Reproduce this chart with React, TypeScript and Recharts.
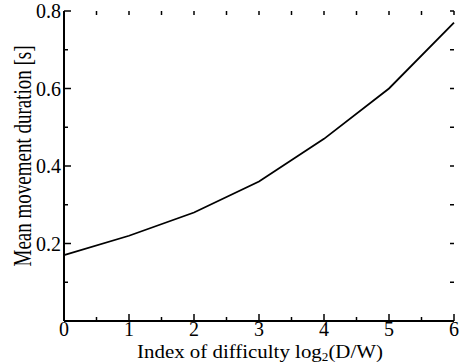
import { LineChart, Line, XAxis, YAxis } from "recharts";

const difficulty = [0, 1, 2, 3, 4, 5, 6];
const duration = [0.17, 0.22, 0.28, 0.36, 0.47, 0.6, 0.77];

const xTicks = [0, 0.5, 1, 1.5, 2, 2.5, 3, 3.5, 4, 4.5, 5, 5.5, 6];
const xLabelled = [0, 1, 2, 3, 4, 5, 6];
const yTicks = [0, 0.1, 0.2, 0.3, 0.4, 0.5, 0.6, 0.7, 0.8];
const yLabelled = [0.2, 0.4, 0.6, 0.8];

const data = difficulty.map((d, i) => ({ d, t: duration[i] }));

const FONT = '"Liberation Serif", "Times New Roman", serif';
const W = 467;
const H = 364;
const TOP = 11;
const RIGHT = 454;

function XTick(props: any) {
  const { x, y, payload } = props;
  const v = payload.value;
  const major = xLabelled.includes(v);
  return (
    <g>
      <line x1={x} y1={y} x2={x} y2={y - (major ? 7 : 4)} stroke="#000" strokeWidth={1.5} />
      <line x1={x} y1={TOP} x2={x} y2={TOP + 4} stroke="#000" strokeWidth={1.5} />
      {major && (
        <text x={x} y={y + 15} textAnchor="middle" fontSize={20} fontFamily={FONT} fill="#000">
          {v}
        </text>
      )}
    </g>
  );
}

function YTick(props: any) {
  const { x, y, payload } = props;
  const v = payload.value;
  const labelled = yLabelled.some((l) => Math.abs(l - v) < 1e-9);
  const major = labelled || Math.abs(v) < 1e-9;
  return (
    <g>
      <line x1={x} y1={y} x2={x + (major ? 7 : 4)} y2={y} stroke="#000" strokeWidth={1.5} />
      <line x1={RIGHT} y1={y} x2={RIGHT - 4} y2={y} stroke="#000" strokeWidth={1.5} />
      {labelled && (
        <text x={x - 3} y={y} dy="0.36em" textAnchor="end" fontSize={20} fontFamily={FONT} fill="#000">
          {v.toFixed(1)}
        </text>
      )}
    </g>
  );
}

function XTitle(props: any) {
  const { x, width } = props.viewBox;
  const cx = x + width / 2 + 1;
  return (
    <text
      transform={`translate(${cx} 358) scale(1.1 1)`}
      textAnchor="middle"
      fontSize={19}
      fontFamily={FONT}
      fill="#000"
    >
      <tspan>Index of difficulty log</tspan>
      <tspan dy={3} fontSize={12}>2</tspan>
      <tspan dy={-3}>(D/W)</tspan>
    </text>
  );
}

function YTitle() {
  return (
    <text
      transform="translate(31 156) scale(1.3 1) rotate(-90)"
      textAnchor="middle"
      fontSize={19}
      fontFamily={FONT}
      fill="#000"
    >
      Mean movement duration [s]
    </text>
  );
}

export default function App() {
  return (
    <div style={{ position: "absolute", left: 0, top: 0, background: "#fff" }}>
      <LineChart width={W} height={H} data={data} margin={{ top: TOP, right: W - RIGHT, left: 0, bottom: 0 }}>
        <XAxis
          xAxisId="b"
          dataKey="d"
          type="number"
          domain={[0, 6]}
          ticks={xTicks}
          interval={0}
          height={43}
          tickSize={0}
          tickMargin={0}
          tickLine={false}
          tick={<XTick />}
          axisLine={{ stroke: "#000", strokeWidth: 2 }}
          label={<XTitle />}
        />
        <XAxis
          xAxisId="top"
          orientation="top"
          dataKey="d"
          type="number"
          domain={[0, 6]}
          height={0}
          tick={false}
          tickLine={false}
          axisLine={{ stroke: "#000", strokeWidth: 2 }}
        />
        <YAxis
          yAxisId="l"
          type="number"
          domain={[0, 0.8]}
          ticks={yTicks}
          interval={0}
          width={64}
          tickSize={0}
          tickMargin={0}
          tickLine={false}
          tick={<YTick />}
          axisLine={{ stroke: "#000", strokeWidth: 2 }}
          label={<YTitle />}
        />
        <YAxis
          yAxisId="r"
          orientation="right"
          type="number"
          domain={[0, 0.8]}
          width={0}
          tick={false}
          tickLine={false}
          axisLine={{ stroke: "#000", strokeWidth: 2 }}
        />
        <Line
          xAxisId="b"
          yAxisId="l"
          type="linear"
          dataKey="t"
          stroke="#000"
          strokeWidth={1.8}
          dot={false}
          isAnimationActive={false}
        />
      </LineChart>
    </div>
  );
}
